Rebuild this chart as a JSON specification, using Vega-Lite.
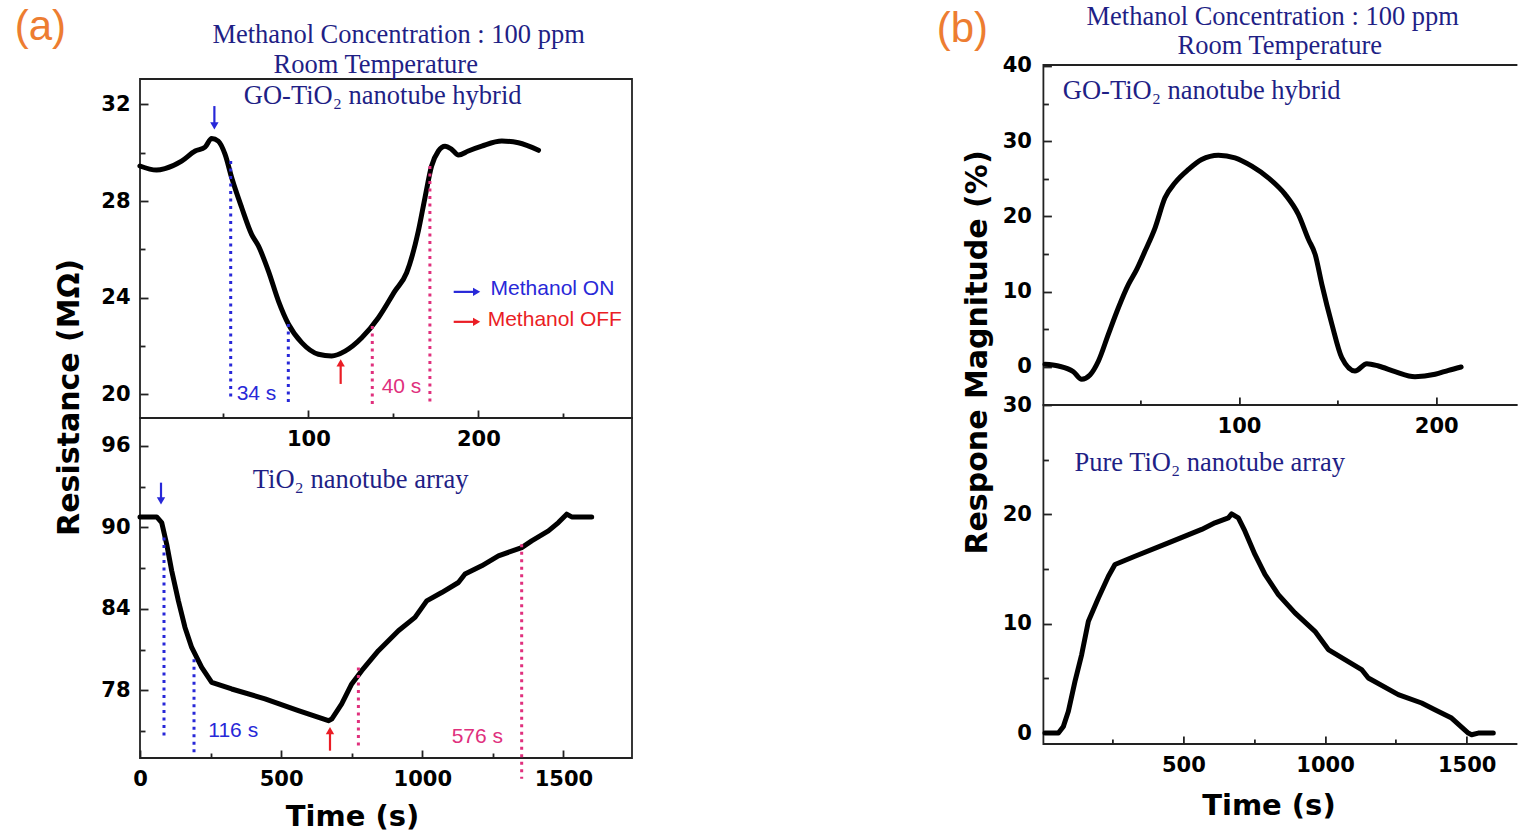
{
  "$schema": "https://vega.github.io/schema/vega-lite/v6.json",
  "usermeta": {"embedOptions": {"actions": false}},
  "padding": {"left": 13, "top": 3, "right": 0, "bottom": 0},
  "background": "white",
  "config": {
    "view": {"stroke": "#222", "strokeWidth": 1.8},
    "axis": {
      "domain": false, "grid": false,
      "labelFont": "DejaVu Sans", "labelFontWeight": "bold", "labelFontSize": 21, "labelColor": "#000",
      "labelFlush": false, "labelOverlap": false, "format": "d",
      "tickColor": "#222", "tickWidth": 1.8,
      "titleFont": "DejaVu Sans", "titleFontWeight": "bold", "titleFontSize": 30, "titleColor": "#000"
    }
  },
  "datasets": {
    "aTop": [
      {"t": 0.9, "v": 29.45}, {"t": 10.7, "v": 29.28}, {"t": 15.6, "v": 29.34}, {"t": 25.4, "v": 29.65},
      {"t": 33.4, "v": 30.07}, {"t": 39.2, "v": 30.23}, {"t": 43.1, "v": 30.59}, {"t": 47.0, "v": 30.48},
      {"t": 51.0, "v": 29.93}, {"t": 54.9, "v": 28.96}, {"t": 60.8, "v": 27.72}, {"t": 66.6, "v": 26.62},
      {"t": 70.6, "v": 26.14}, {"t": 76.5, "v": 25.1}, {"t": 82.4, "v": 23.86}, {"t": 88.3, "v": 22.9},
      {"t": 96.1, "v": 22.14}, {"t": 105.9, "v": 21.66}, {"t": 113.7, "v": 21.59}, {"t": 121.6, "v": 21.79},
      {"t": 131.4, "v": 22.34}, {"t": 141.2, "v": 23.17}, {"t": 151.0, "v": 24.28}, {"t": 157.8, "v": 25.03},
      {"t": 164.7, "v": 26.76}, {"t": 168.6, "v": 28.14}, {"t": 172.5, "v": 29.45}, {"t": 176.5, "v": 30.07},
      {"t": 180.4, "v": 30.27}, {"t": 184.3, "v": 30.14}, {"t": 188.3, "v": 29.9}, {"t": 194.1, "v": 30.07},
      {"t": 202.0, "v": 30.27}, {"t": 213.8, "v": 30.48}, {"t": 223.6, "v": 30.41}, {"t": 235.4, "v": 30.1}
    ],
    "aBot": [
      {"t": 0, "v": 90.78}, {"t": 59.2, "v": 90.78}, {"t": 76.9, "v": 90.36}, {"t": 94.6, "v": 88.77},
      {"t": 112.3, "v": 86.81}, {"t": 136, "v": 84.6}, {"t": 159.4, "v": 82.64}, {"t": 183.1, "v": 81.17},
      {"t": 218.6, "v": 79.7}, {"t": 254, "v": 78.6}, {"t": 324.8, "v": 78.11}, {"t": 442.8, "v": 77.38},
      {"t": 561.1, "v": 76.51}, {"t": 667.4, "v": 75.78}, {"t": 679.1, "v": 75.9}, {"t": 714.5, "v": 77.01},
      {"t": 750, "v": 78.48}, {"t": 785.4, "v": 79.46}, {"t": 844.5, "v": 80.93}, {"t": 915.3, "v": 82.4},
      {"t": 974.1, "v": 83.38}, {"t": 1015.6, "v": 84.6}, {"t": 1068.7, "v": 85.21}, {"t": 1127.9, "v": 85.95},
      {"t": 1151.3, "v": 86.57}, {"t": 1210.4, "v": 87.18}, {"t": 1269.6, "v": 87.91}, {"t": 1352.1, "v": 88.52},
      {"t": 1387.5, "v": 89.01}, {"t": 1446.7, "v": 89.75}, {"t": 1482.1, "v": 90.36}, {"t": 1511.5, "v": 90.98},
      {"t": 1529.2, "v": 90.78}, {"t": 1600, "v": 90.78}
    ],
    "bTop": [
      {"t": 1.7, "v": 0.36}, {"t": 8.5, "v": 0.13}, {"t": 16.1, "v": -0.62}, {"t": 20.3, "v": -1.63},
      {"t": 24.5, "v": -1.06}, {"t": 28.8, "v": 0.8}, {"t": 33.8, "v": 4.34}, {"t": 38.9, "v": 7.88},
      {"t": 44.0, "v": 10.98}, {"t": 48.2, "v": 12.97}, {"t": 52.4, "v": 15.4}, {"t": 57.5, "v": 18.5},
      {"t": 62.5, "v": 22.48}, {"t": 67.6, "v": 24.48}, {"t": 74.4, "v": 26.25}, {"t": 81.1, "v": 27.58},
      {"t": 89.6, "v": 28.15}, {"t": 98.0, "v": 27.8}, {"t": 106.5, "v": 26.69}, {"t": 114.9, "v": 25.14},
      {"t": 123.4, "v": 22.94}, {"t": 130.1, "v": 20.28}, {"t": 135.2, "v": 16.96}, {"t": 138.6, "v": 14.97},
      {"t": 142.0, "v": 10.98}, {"t": 147.1, "v": 5.67}, {"t": 152.1, "v": 1.24}, {"t": 158.8, "v": -0.53},
      {"t": 164.8, "v": 0.44}, {"t": 170.7, "v": 0.13}, {"t": 179.1, "v": -0.62}, {"t": 189.2, "v": -1.29},
      {"t": 199.4, "v": -0.97}, {"t": 206.2, "v": -0.44}, {"t": 212.6, "v": 0}
    ],
    "bBot": [
      {"t": 11.6, "v": 0}, {"t": 58.9, "v": 0}, {"t": 76.6, "v": 0.61}, {"t": 94.2, "v": 1.99},
      {"t": 117.5, "v": 4.73}, {"t": 141.1, "v": 7.18}, {"t": 164.8, "v": 10.23}, {"t": 200.1, "v": 12.36},
      {"t": 235.4, "v": 14.35}, {"t": 258.6, "v": 15.42}, {"t": 329.2, "v": 16.18}, {"t": 447.1, "v": 17.4},
      {"t": 564.6, "v": 18.63}, {"t": 611.5, "v": 19.23}, {"t": 658.8, "v": 19.69}, {"t": 670.4, "v": 20.05},
      {"t": 694.1, "v": 19.69}, {"t": 717.4, "v": 18.47}, {"t": 752.6, "v": 16.34}, {"t": 787.9, "v": 14.51},
      {"t": 835.2, "v": 12.67}, {"t": 893.8, "v": 10.99}, {"t": 964.4, "v": 9.31}, {"t": 1011.6, "v": 7.64},
      {"t": 1070.2, "v": 6.72}, {"t": 1129.1, "v": 5.81}, {"t": 1152.8, "v": 5.04}, {"t": 1258.6, "v": 3.52},
      {"t": 1340.9, "v": 2.75}, {"t": 1387.8, "v": 2.14}, {"t": 1446.7, "v": 1.37}, {"t": 1505.6, "v": 0},
      {"t": 1517.3, "v": -0.15}, {"t": 1540.9, "v": 0}, {"t": 1593.9, "v": 0}
    ],
    "aTopDots": [
      {"t": 54.3, "y1": 29.66, "y2": 19.81, "kind": "on"},
      {"t": 88.2, "y1": 22.91, "y2": 19.52, "kind": "on"},
      {"t": 137.6, "y1": 22.83, "y2": 19.52, "kind": "rec"},
      {"t": 171.5, "y1": 29.45, "y2": 19.6, "kind": "rec"}
    ],
    "aBotDots": [
      {"t": 85, "y1": 89.26, "y2": 74.68, "kind": "on"},
      {"t": 191.3, "y1": 80.3, "y2": 73.45, "kind": "on"},
      {"t": 773.6, "y1": 79.7, "y2": 73.7, "kind": "rec"},
      {"t": 1352, "y1": 88.77, "y2": 71.5, "kind": "rec"}
    ],
    "aTopLabels": [
      {"t": 57.8, "v": 20.02, "text": "34 s", "kind": "on"},
      {"t": 143.1, "v": 20.31, "text": "40 s", "kind": "rec"},
      {"t": 207.2, "v": 24.36, "text": "Methanol ON", "kind": "on"},
      {"t": 205.5, "v": 23.08, "text": "Methanol OFF", "kind": "off"}
    ],
    "aBotLabels": [
      {"t": 242, "v": 75.05, "text": "116 s", "kind": "on"},
      {"t": 1104, "v": 74.55, "text": "576 s", "kind": "rec"}
    ],
    "aTopSerif": [
      {"t": 153.1, "v": 34.87, "text": "Methanol Concentration : 100 ppm"},
      {"t": 139.6, "v": 33.63, "text": "Room Temperature"},
      {"t": 143.7, "v": 32.35, "text": "GO-TiO₂ nanotube hybrid"}
    ],
    "aBotSerif": [
      {"t": 781.8, "v": 93.5, "text": "TiO₂ nanotube array"}
    ],
    "bTopSerif": [
      {"t": 117.1, "v": 46.51, "text": "Methanol Concentration : 100 ppm"},
      {"t": 120.7, "v": 42.59, "text": "Room Temperature"},
      {"t": 81.1, "v": 36.67, "text": "GO-TiO₂ nanotube hybrid"}
    ],
    "bBotSerif": [
      {"t": 593, "v": 24.7, "text": "Pure TiO₂ nanotube array"}
    ],
    "aPanel": [{"t": -72.8, "v": 34.66, "text": "(a)"}],
    "bPanel": [{"t": -53.2, "v": 43.19, "text": "(b)"}],
    "aTopArrows": [
      {"t": 44.7, "y1": 31.93, "y2": 31.11, "kind": "on", "dir": "down"},
      {"t": 119, "y1": 20.43, "y2": 21.3, "kind": "off", "dir": "up"}
    ],
    "aTopKey": [
      {"v": 24.24, "x1": 185.5, "x2": 199, "kind": "on"},
      {"v": 23.0, "x1": 185.5, "x2": 199, "kind": "off"}
    ],
    "aBotArrows": [
      {"t": 74.4, "y1": 93.3, "y2": 91.96, "kind": "on", "dir": "down"},
      {"t": 673, "y1": 73.57, "y2": 75.04, "kind": "off", "dir": "up"}
    ]
  },
  "hconcat": [
    {
      "vconcat": [
        {
          "width": 492, "height": 14,
          "data": {"values": []},
          "mark": {"type": "point", "opacity": 0},
          "view": {"stroke": null}
        },
        {
          "width": 492, "height": 339,
          "layer": [
            {
              "data": {"name": "aTop"},
              "mark": {"type": "line", "color": "#000", "strokeWidth": 5, "interpolate": "monotone", "strokeCap": "round", "strokeJoin": "round"},
              "encoding": {
                "x": {"field": "t", "type": "quantitative", "scale": {"domain": [0.94, 290.4], "nice": false, "zero": false},
                      "axis": {"orient": "bottom", "values": [100, 200], "tickSize": -8, "labelPadding": 18, "title": null}},
                "y": {"field": "v", "type": "quantitative", "scale": {"domain": [19.02, 33.05], "nice": false, "zero": false},
                      "axis": {"orient": "left", "values": [20, 24, 28, 32], "tickSize": -8, "labelPadding": 18,
                               "title": "Resistance (MΩ)", "titleX": -62, "titleY": 318, "titleAngle": 270,
                               "titleBaseline": "alphabetic", "titleAlign": "center"}}
              }
            },
            {
              "data": {"name": "aTopDots"},
              "mark": {"type": "rule", "strokeWidth": 3, "strokeDash": [3, 4.5]},
              "encoding": {
                "x": {"field": "t", "type": "quantitative", "axis": {"orient": "bottom", "values": [50, 150, 250], "tickSize": -5, "labels": false, "title": null}},
                "y": {"field": "y1", "type": "quantitative", "axis": {"orient": "left", "values": [22, 26, 30], "tickSize": -5, "labels": false, "title": null}},
                "y2": {"field": "y2"},
                "color": {"field": "kind", "type": "nominal", "scale": {"domain": ["on", "off", "rec"], "range": ["#2828d8", "#ea1d25", "#e0307d"]}, "legend": null}
              }
            },
            {
              "data": {"name": "aTopArrows"},
              "mark": {"type": "rule", "strokeWidth": 2.2},
              "encoding": {
                "x": {"field": "t", "type": "quantitative", "axis": null},
                "y": {"field": "y1", "type": "quantitative", "axis": null},
                "y2": {"field": "y2"},
                "color": {"field": "kind", "type": "nominal", "legend": null}
              }
            },
            {
              "data": {"name": "aTopArrows"},
              "mark": {"type": "point", "filled": true, "size": 70, "opacity": 1},
              "encoding": {
                "x": {"field": "t", "type": "quantitative", "axis": null},
                "y": {"field": "y2", "type": "quantitative", "axis": null},
                "shape": {"field": "dir", "type": "nominal", "scale": {"domain": ["down", "up", "right"], "range": ["triangle-down", "triangle-up", "triangle-right"]}, "legend": null},
                "color": {"field": "kind", "type": "nominal", "legend": null}
              }
            },
            {
              "data": {"name": "aTopKey"},
              "mark": {"type": "rule", "strokeWidth": 2.2},
              "encoding": {
                "x": {"field": "x1", "type": "quantitative", "axis": null},
                "x2": {"field": "x2"},
                "y": {"field": "v", "type": "quantitative", "axis": null},
                "color": {"field": "kind", "type": "nominal", "legend": null}
              }
            },
            {
              "data": {"name": "aTopKey"},
              "mark": {"type": "point", "filled": true, "size": 70, "opacity": 1, "shape": "triangle-right"},
              "encoding": {
                "x": {"field": "x2", "type": "quantitative", "axis": null},
                "y": {"field": "v", "type": "quantitative", "axis": null},
                "color": {"field": "kind", "type": "nominal", "legend": null}
              }
            },
            {
              "data": {"name": "aTopLabels"},
              "mark": {"type": "text", "font": "Liberation Sans", "fontSize": 21, "align": "left", "baseline": "middle"},
              "encoding": {
                "x": {"field": "t", "type": "quantitative", "axis": null},
                "y": {"field": "v", "type": "quantitative", "axis": null},
                "text": {"field": "text"},
                "color": {"field": "kind", "type": "nominal", "legend": null}
              }
            },
            {
              "data": {"name": "aTopSerif"},
              "mark": {"type": "text", "font": "Liberation Serif", "fontSize": 26.5, "align": "center", "baseline": "middle", "color": "#1f1f86"},
              "encoding": {
                "x": {"field": "t", "type": "quantitative", "axis": null},
                "y": {"field": "v", "type": "quantitative", "axis": null},
                "text": {"field": "text"}
              }
            },
            {
              "data": {"name": "aPanel"},
              "mark": {"type": "text", "font": "Liberation Sans", "fontSize": 42, "align": "left", "baseline": "alphabetic", "color": "#ed7d31"},
              "encoding": {
                "x": {"field": "t", "type": "quantitative", "axis": null},
                "y": {"field": "v", "type": "quantitative", "axis": null},
                "text": {"field": "text"}
              }
            }
          ],
          "resolve": {"axis": {"x": "independent", "y": "independent"}}
        },
        {
          "width": 492, "height": 340,
          "layer": [
            {
              "data": {"name": "aBot"},
              "mark": {"type": "line", "color": "#000", "strokeWidth": 5, "strokeCap": "round", "strokeJoin": "round"},
              "encoding": {
                "x": {"field": "t", "type": "quantitative", "scale": {"domain": [0, 1742.8], "nice": false, "zero": false},
                      "axis": {"orient": "bottom", "values": [0, 500, 1000, 1500], "tickSize": -8, "labelPadding": 18,
                               "title": "Time (s)", "titleFontSize": 29, "titleX": 212, "titleY": 67, "titleBaseline": "alphabetic", "titleAlign": "center"}},
                "y": {"field": "v", "type": "quantitative", "scale": {"domain": [73.03, 98.06], "nice": false, "zero": false},
                      "axis": {"orient": "left", "values": [78, 84, 90, 96], "tickSize": -8, "labelPadding": 18, "title": null}}
              }
            },
            {
              "data": {"name": "aBotDots"},
              "mark": {"type": "rule", "strokeWidth": 3, "strokeDash": [3, 4.5]},
              "encoding": {
                "x": {"field": "t", "type": "quantitative", "axis": {"orient": "bottom", "values": [250, 750, 1250], "tickSize": -5, "labels": false, "title": null}},
                "y": {"field": "y1", "type": "quantitative", "axis": {"orient": "left", "values": [75, 81, 87, 93], "tickSize": -5, "labels": false, "title": null}},
                "y2": {"field": "y2"},
                "color": {"field": "kind", "type": "nominal", "legend": null}
              }
            },
            {
              "data": {"name": "aBotArrows"},
              "mark": {"type": "rule", "strokeWidth": 2.2},
              "encoding": {
                "x": {"field": "t", "type": "quantitative", "axis": null},
                "y": {"field": "y1", "type": "quantitative", "axis": null},
                "y2": {"field": "y2"},
                "color": {"field": "kind", "type": "nominal", "legend": null}
              }
            },
            {
              "data": {"name": "aBotArrows"},
              "mark": {"type": "point", "filled": true, "size": 70, "opacity": 1},
              "encoding": {
                "x": {"field": "t", "type": "quantitative", "axis": null},
                "y": {"field": "y2", "type": "quantitative", "axis": null},
                "shape": {"field": "dir", "type": "nominal", "legend": null},
                "color": {"field": "kind", "type": "nominal", "legend": null}
              }
            },
            {
              "data": {"name": "aBotLabels"},
              "mark": {"type": "text", "font": "Liberation Sans", "fontSize": 21, "align": "left", "baseline": "middle"},
              "encoding": {
                "x": {"field": "t", "type": "quantitative", "axis": null},
                "y": {"field": "v", "type": "quantitative", "axis": null},
                "text": {"field": "text"},
                "color": {"field": "kind", "type": "nominal", "legend": null}
              }
            },
            {
              "data": {"name": "aBotSerif"},
              "mark": {"type": "text", "font": "Liberation Serif", "fontSize": 26.5, "align": "center", "baseline": "middle", "color": "#1f1f86"},
              "encoding": {
                "x": {"field": "t", "type": "quantitative", "axis": null},
                "y": {"field": "v", "type": "quantitative", "axis": null},
                "text": {"field": "text"}
              }
            }
          ],
          "resolve": {"axis": {"x": "independent", "y": "independent"}}
        }
      ],
      "spacing": 0,
      "bounds": "flush"
    },
    {
      "vconcat": [
        {
          "width": 474, "height": 340,
          "view": {"stroke": "#222", "strokeWidth": 1.8, "strokeDash": [474, 340, 814]},
          "layer": [
            {
              "data": {"name": "bTop"},
              "mark": {"type": "line", "color": "#000", "strokeWidth": 5, "interpolate": "monotone", "strokeCap": "round", "strokeJoin": "round"},
              "encoding": {
                "x": {"field": "t", "type": "quantitative", "scale": {"domain": [0.9, 241.1], "nice": false, "zero": false},
                      "axis": {"orient": "bottom", "values": [100, 200], "tickSize": -8, "labelPadding": 18, "title": null}},
                "y": {"field": "v", "type": "quantitative", "scale": {"domain": [-5.05, 40.13], "nice": false, "zero": false},
                      "axis": {"orient": "left", "values": [0, 10, 20, 30, 40], "tickSize": -8, "labelPadding": 20,
                               "title": "Respone Magnitude (%)", "titleX": -57, "titleY": 287, "titleAngle": 270,
                               "titleBaseline": "alphabetic", "titleAlign": "center"}}
              }
            },
            {
              "data": {"name": "bTop"},
              "mark": {"type": "point", "opacity": 0},
              "encoding": {
                "x": {"field": "t", "type": "quantitative", "axis": {"orient": "bottom", "values": [50, 150], "tickSize": -5, "labels": false, "title": null}},
                "y": {"field": "v", "type": "quantitative", "axis": {"orient": "left", "values": [5, 15, 25, 35], "tickSize": -5, "labels": false, "title": null}}
              }
            },
            {
              "data": {"name": "bTopSerif"},
              "mark": {"type": "text", "font": "Liberation Serif", "fontSize": 26.5, "align": "center", "baseline": "middle", "color": "#1f1f86"},
              "encoding": {
                "x": {"field": "t", "type": "quantitative", "axis": null},
                "y": {"field": "v", "type": "quantitative", "axis": null},
                "text": {"field": "text"}
              }
            },
            {
              "data": {"name": "bPanel"},
              "mark": {"type": "text", "font": "Liberation Sans", "fontSize": 42, "align": "left", "baseline": "alphabetic", "color": "#ed7d31"},
              "encoding": {
                "x": {"field": "t", "type": "quantitative", "axis": null},
                "y": {"field": "v", "type": "quantitative", "axis": null},
                "text": {"field": "text"}
              }
            }
          ],
          "resolve": {"axis": {"x": "independent", "y": "independent"}}
        },
        {
          "width": 474, "height": 339,
          "view": {"stroke": "#222", "strokeWidth": 1.8, "strokeDash": [474, 339, 813]},
          "layer": [
            {
              "data": {"name": "bBot"},
              "mark": {"type": "line", "color": "#000", "strokeWidth": 5, "strokeCap": "round", "strokeJoin": "round"},
              "encoding": {
                "x": {"field": "t", "type": "quantitative", "scale": {"domain": [6, 1679], "nice": false, "zero": false},
                      "axis": {"orient": "bottom", "values": [500, 1000, 1500], "tickSize": -8, "labelPadding": 18,
                               "title": "Time (s)", "titleFontSize": 29, "titleX": 225, "titleY": 70, "titleBaseline": "alphabetic", "titleAlign": "center"}},
                "y": {"field": "v", "type": "quantitative", "scale": {"domain": [-1, 30.01], "nice": false, "zero": false},
                      "axis": {"orient": "left", "values": [0, 10, 20, 30], "tickSize": -8, "labelPadding": 20, "title": null}}
              }
            },
            {
              "data": {"name": "bBot"},
              "mark": {"type": "point", "opacity": 0},
              "encoding": {
                "x": {"field": "t", "type": "quantitative", "axis": {"orient": "bottom", "values": [250, 750, 1250], "tickSize": -5, "labels": false, "title": null}},
                "y": {"field": "v", "type": "quantitative", "axis": {"orient": "left", "values": [5, 15, 25], "tickSize": -5, "labels": false, "title": null}}
              }
            },
            {
              "data": {"name": "bBotSerif"},
              "mark": {"type": "text", "font": "Liberation Serif", "fontSize": 26.5, "align": "center", "baseline": "middle", "color": "#1f1f86"},
              "encoding": {
                "x": {"field": "t", "type": "quantitative", "axis": null},
                "y": {"field": "v", "type": "quantitative", "axis": null},
                "text": {"field": "text"}
              }
            }
          ],
          "resolve": {"axis": {"x": "independent", "y": "independent"}}
        }
      ],
      "spacing": 0,
      "bounds": "flush"
    }
  ],
  "spacing": 903.4,
  "bounds": "flush"
}
